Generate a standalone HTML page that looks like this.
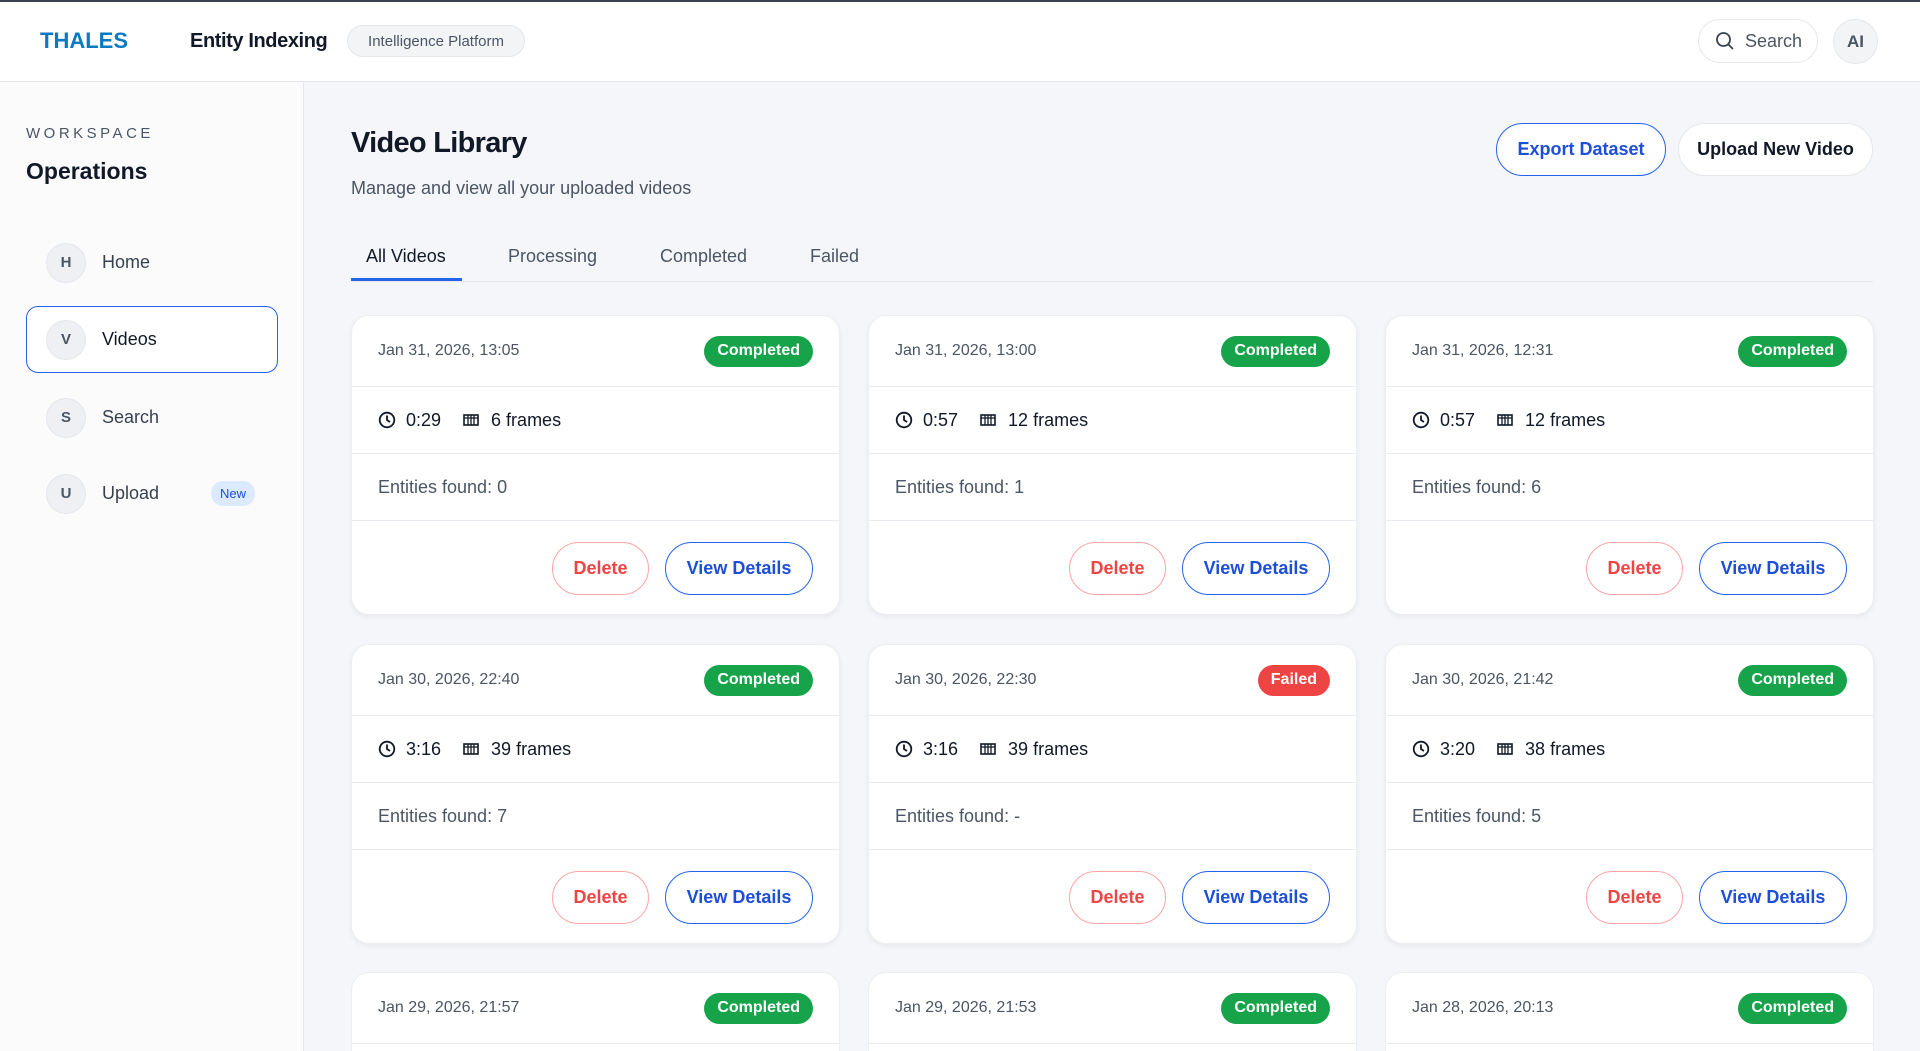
<!DOCTYPE html>
<html style="width:1920px;height:1051px;overflow:hidden"><head><meta charset="utf-8"><style>
*{box-sizing:border-box;margin:0;padding:0}
body{width:1920px;height:1051px;overflow:hidden;font-family:"Liberation Sans",sans-serif;background:#f5f6f9;color:#111827;position:relative}
#wrap{position:absolute;left:0;top:0;width:1920px;height:1051px;overflow:hidden}
.hdr{position:absolute;left:0;top:0;width:1920px;height:82px;background:#fff;border-top:2px solid #374151;border-bottom:1px solid #e5e7eb}
.abs{position:absolute}
.side{position:absolute;left:0;top:82px;width:304px;height:969px;background:#fbfbfc;border-right:1px solid #e5e7eb}
.nav{position:absolute;left:26px;width:252px;height:67px;display:flex;align-items:center;padding-left:20px;font-size:18px;color:#374151}
.ic{width:40px;height:40px;border-radius:50%;background:#eef0f4;border:1px solid #e5e7eb;display:flex;align-items:center;justify-content:center;font-size:15px;font-weight:bold;color:#4b5563;margin-right:16px}
.card{position:absolute;width:489px;height:300px;background:#fff;border-radius:18px;box-shadow:0 2px 6px rgba(0,0,0,.06);border:1px solid #eceef2;overflow:hidden}
.card.cut{height:79px;border-bottom:none;border-radius:18px 18px 0 0;box-shadow:none}
.ch{height:71px;border-bottom:1px solid #e8ebf0;display:flex;align-items:center;justify-content:space-between;padding:0 26px;font-size:16px;color:#4b5563}
.bd{height:31px;padding:0 13px;border-radius:16px;background:#16a34a;color:#fff;font-weight:bold;font-size:16px;display:flex;align-items:center}
.bd.f{background:#ef4444}
.cm{height:67px;border-bottom:1px solid #e8ebf0;display:flex;align-items:center;padding:0 26px;font-size:18px;color:#111827}
.ce{height:67px;border-bottom:1px solid #e8ebf0;display:flex;align-items:center;padding:0 26px;font-size:18px;color:#4b5563}
.ca{height:94px;display:flex;align-items:center;justify-content:flex-end;padding:0 26px;gap:16px}
.b{height:53px;border-radius:27px;display:flex;align-items:center;justify-content:center;font-size:18px;font-weight:bold;background:#fff}
.del{width:97px;border:1px solid #fca5a5;color:#ef4444}
.vd{width:148px;border:1.5px solid #2563eb;color:#1d4ed8}
</style></head><body><div id="wrap">
<div class="hdr">
<div class="abs" style="left:40px;top:26px;font-size:22px;font-weight:bold;color:#0b7ac0">THALES</div>
<div class="abs" style="left:190px;top:28px;font-size:20px;font-weight:bold;color:#111827;letter-spacing:-.4px">Entity Indexing</div>
<div class="abs" style="left:347px;top:23px;width:178px;height:32px;border-radius:16px;background:#f3f4f6;border:1px solid #e5e7eb;font-size:15px;color:#4b5563;display:flex;align-items:center;justify-content:center">Intelligence Platform</div>
<div class="abs" style="left:1698px;top:17px;width:120px;height:44px;border-radius:22px;border:1px solid #e5e7eb;background:#fff;display:flex;align-items:center;padding-left:16px;font-size:18px;color:#4b5563"><svg width="20" height="20" viewBox="0 0 20 20" style="margin-right:10px"><circle cx="8.5" cy="8.5" r="6.5" fill="none" stroke="#374151" stroke-width="1.8"/><line x1="13.5" y1="13.5" x2="18" y2="18" stroke="#374151" stroke-width="1.8"/></svg>Search</div>
<div class="abs" style="left:1833px;top:17px;width:45px;height:45px;border-radius:50%;background:#f3f4f6;border:1px solid #e5e7eb;display:flex;align-items:center;justify-content:center;font-size:17px;font-weight:bold;color:#4b5563">AI</div>
</div>
<div class="side">
<div class="abs" style="left:26px;top:43px;font-size:15px;letter-spacing:3.5px;color:#4b5563">WORKSPACE</div>
<div class="abs" style="left:26px;top:76px;font-size:23px;font-weight:bold">Operations</div>
<div class="nav" style="top:147px"><div class="ic">H</div>Home</div>
<div class="nav" style="top:224px;border:1.5px solid #2563eb;border-radius:12px;background:#fff;color:#111827;padding-left:19px"><div class="ic">V</div>Videos</div>
<div class="nav" style="top:302px"><div class="ic">S</div>Search</div>
<div class="nav" style="top:378px"><div class="ic">U</div>Upload<span style="margin-left:52px;background:#dbeafe;color:#1d4ed8;font-size:13px;padding:5px 9px;border-radius:12px">New</span></div>
</div>
<div class="abs" style="left:351px;top:127px;font-size:29px;font-weight:bold;letter-spacing:-.7px">Video Library</div>
<div class="abs" style="left:351px;top:178px;font-size:18px;color:#4b5563">Manage and view all your uploaded videos</div>
<div class="abs b" style="left:1496px;top:123px;width:170px;height:53px;border:1.5px solid #2563eb;color:#1d4ed8">Export Dataset</div>
<div class="abs b" style="left:1678px;top:123px;width:195px;height:53px;border:1px solid #e5e7eb;color:#111827">Upload New Video</div>
<div class="abs" style="left:351px;top:281px;width:1522px;height:1px;background:#e5e7eb"></div>
<div class="abs" style="left:351px;top:278px;width:111px;height:3px;background:#2563eb"></div>
<div class="abs" style="left:366px;top:246px;font-size:18px;color:#111827">All Videos</div>
<div class="abs" style="left:508px;top:246px;font-size:18px;color:#4b5563">Processing</div>
<div class="abs" style="left:660px;top:246px;font-size:18px;color:#4b5563">Completed</div>
<div class="abs" style="left:810px;top:246px;font-size:18px;color:#4b5563">Failed</div>
<div id="g"></div>
</div>
<script>
var clk='<svg width="18" height="18" viewBox="0 0 18 18" style="margin-right:10px"><circle cx="9" cy="9" r="7.3" fill="none" stroke="#111827" stroke-width="1.8"/><path d="M9 4.5V9l3 2" fill="none" stroke="#111827" stroke-width="1.8"/></svg>';
var frm='<svg width="16" height="14" viewBox="0 0 16 14" style="margin:0 12px 0 22px"><rect x="1" y="2" width="14" height="10" fill="none" stroke="#111827" stroke-width="1.6"/><path d="M5 2v10M8 2v10M11 2v10M1 5h14" stroke="#111827" stroke-width="1.3"/></svg>';
var d=[["Jan 31, 2026, 13:05","Completed","0:29","6 frames","0"],["Jan 31, 2026, 13:00","Completed","0:57","12 frames","1"],["Jan 31, 2026, 12:31","Completed","0:57","12 frames","6"],["Jan 30, 2026, 22:40","Completed","3:16","39 frames","7"],["Jan 30, 2026, 22:30","Failed","3:16","39 frames","-"],["Jan 30, 2026, 21:42","Completed","3:20","38 frames","5"],["Jan 29, 2026, 21:57","Completed"],["Jan 29, 2026, 21:53","Completed"],["Jan 28, 2026, 20:13","Completed"]];
var xs=[351,868,1385],ys=[315,644,972],h="";
d.forEach(function(c,i){var head='<div class="ch">'+c[0]+'<div class="bd'+(c[1]=="Failed"?" f":"")+'">'+c[1]+'</div></div>';
if(i>=6){h+='<div class="card cut" style="left:'+xs[i%3]+'px;top:972px">'+head+'</div>';return;}
h+='<div class="card" style="left:'+xs[i%3]+'px;top:'+ys[Math.floor(i/3)]+'px">'+head+'<div class="cm">'+clk+c[2]+frm+c[3]+'</div><div class="ce">Entities found: '+c[4]+'</div><div class="ca"><div class="b del">Delete</div><div class="b vd">View Details</div></div></div>';});
document.getElementById("g").innerHTML=h;
</script>
</body></html>
